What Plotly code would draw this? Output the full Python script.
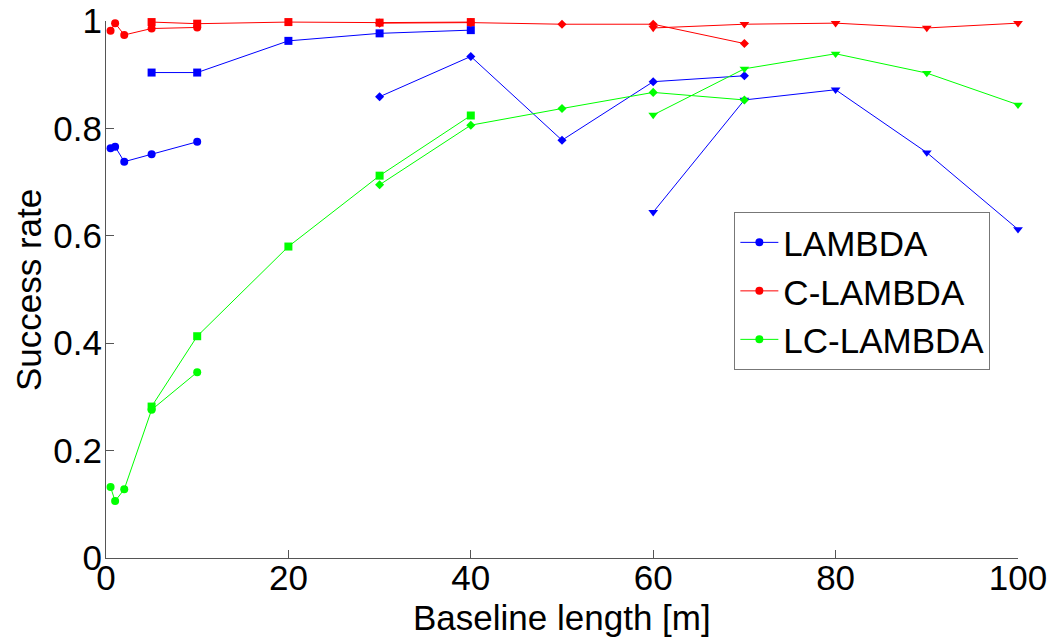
import plotly.graph_objects as go

# Baseline lengths [m] for each marker group
x_circle = [0.5, 1, 2, 5, 10]
x_square = [5, 10, 20, 30, 40]
x_diamond = [30, 40, 50, 60, 70]
x_triangle = [60, 70, 80, 90, 100]

# LAMBDA success rates
lambda_circle = [0.763, 0.766, 0.738, 0.752, 0.775]
lambda_square = [0.904, 0.904, 0.963, 0.977, 0.983]
lambda_diamond = [0.859, 0.934, 0.778, 0.887, 0.898]
lambda_triangle = [0.644, 0.853, 0.872, 0.755, 0.612]

# C-LAMBDA success rates
clambda_circle = [0.982, 0.996, 0.974, 0.986, 0.988]
clambda_square = [0.998, 0.995, 0.998, 0.997, 0.998]
clambda_diamond = [0.996, 0.997, 0.994, 0.994, 0.958]
clambda_triangle = [0.987, 0.994, 0.996, 0.987, 0.996]

# LC-LAMBDA success rates
lclambda_circle = [0.132, 0.106, 0.128, 0.276, 0.346]
lclambda_square = [0.282, 0.413, 0.580, 0.712, 0.824]
lclambda_diamond = [0.695, 0.806, 0.837, 0.867, 0.853]
lclambda_triangle = [0.825, 0.911, 0.939, 0.903, 0.844]

methods = ["LAMBDA", "C-LAMBDA", "LC-LAMBDA"]
colors = ["#0000ff", "#ff0000", "#00ff00"]
data = [
    [lambda_circle, lambda_square, lambda_diamond, lambda_triangle],
    [clambda_circle, clambda_square, clambda_diamond, clambda_triangle],
    [lclambda_circle, lclambda_square, lclambda_diamond, lclambda_triangle],
]
xs = [x_circle, x_square, x_diamond, x_triangle]
symbols = ["circle", "square", "diamond", "triangle-down"]
sizes = [8, 8, 7, 8.5]

FONT = "Liberation Sans, Arial, sans-serif"
FS = 35

fig = go.Figure()
for m, name in enumerate(methods):
    for k in range(4):
        fig.add_trace(go.Scatter(
            x=xs[k], y=data[m][k],
            mode="lines+markers",
            name=name,
            legendgroup=name,
            showlegend=(k == 0),
            line=dict(color=colors[m], width=1),
            marker=dict(symbol=symbols[k], size=sizes[k], color=colors[m],
                        line=dict(width=0)),
            cliponaxis=False,
        ))

fig.update_layout(
    width=1054, height=637,
    margin=dict(l=106, r=36, t=21, b=79, autoexpand=False),
    paper_bgcolor="white", plot_bgcolor="white",
    font=dict(family=FONT, size=FS, color="black"),
    showlegend=True,
    legend=dict(
        x=0.689, y=0.497, xanchor="left", yanchor="middle",
        bgcolor="white", bordercolor="#777777", borderwidth=1,
        font=dict(family=FONT, size=35, color="black"),
        tracegroupgap=0, itemwidth=38,
    ),
    xaxis=dict(
        range=[0, 100], tickvals=[0, 20, 40, 60, 80, 100],
        ticks="inside", ticklen=8, tickcolor="#555555",
        showline=True, linecolor="#555555", linewidth=1,
        showgrid=False, zeroline=False, automargin=False,
        ticklabelstandoff=-11,
        tickfont=dict(family=FONT, size=FS, color="black"),
    ),
    yaxis=dict(
        range=[0, 1], tickvals=[0, 0.2, 0.4, 0.6, 0.8, 1],
        ticktext=["0", "0.2", "0.4", "0.6", "0.8", "1"],
        ticks="inside", ticklen=8, tickcolor="#555555",
        showline=True, linecolor="#555555", linewidth=1,
        showgrid=False, zeroline=False, automargin=False,
        ticklabelstandoff=-4,
        tickfont=dict(family=FONT, size=FS, color="black"),
    ),
    annotations=[
        dict(text="Baseline length [m]", xref="paper", yref="paper",
             x=0.5, y=-0.1117, xanchor="center", yanchor="middle",
             showarrow=False, font=dict(family=FONT, size=FS, color="black")),
        dict(text="Success rate", xref="paper", yref="paper",
             x=-0.0855, y=0.499, xanchor="center", yanchor="middle",
             textangle=-90, showarrow=False,
             font=dict(family=FONT, size=FS, color="black")),
    ],
)

fig.write_html("out.html", config={"displayModeBar": False},
               post_script="document.body.style.margin='0';")
